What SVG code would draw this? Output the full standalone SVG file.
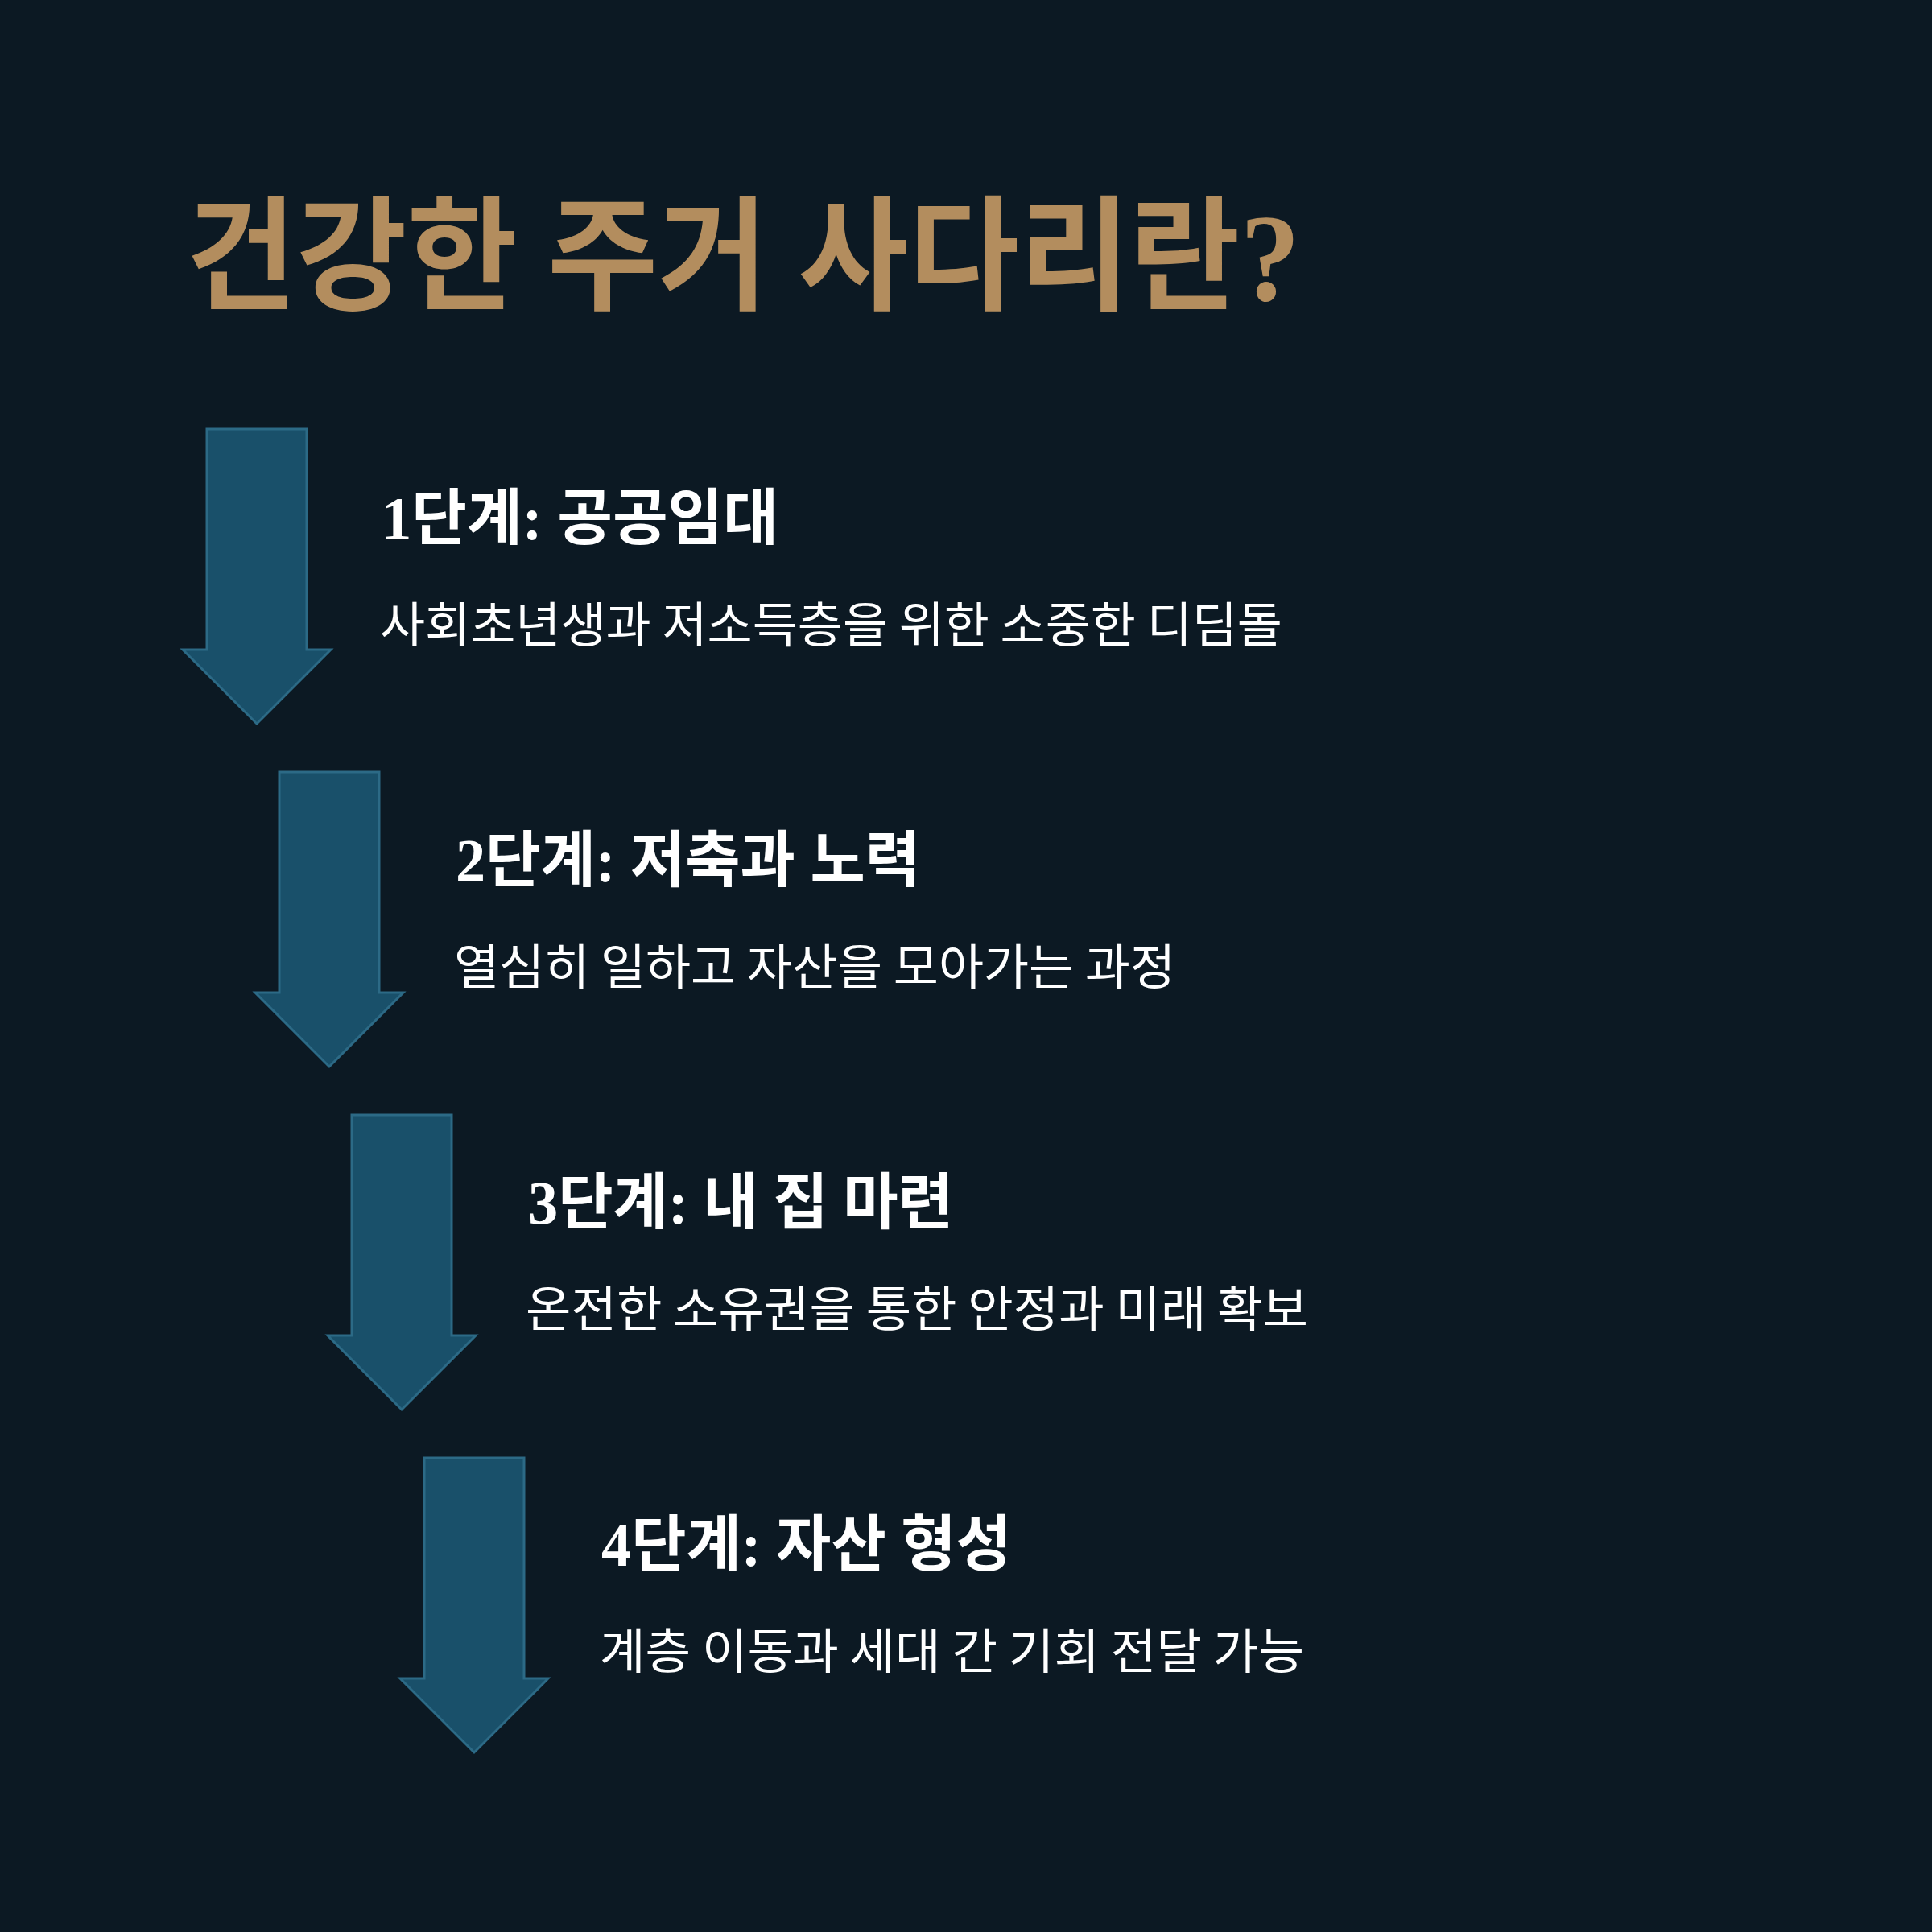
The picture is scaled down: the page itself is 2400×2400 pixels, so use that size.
<svg xmlns="http://www.w3.org/2000/svg" width="2400" height="2400" viewBox="0 0 2400 2400">
  <style>
    .bg { fill: #0c1923; }
    .arrow { fill: #19506a; stroke: #2c6a86; stroke-width: 3; stroke-linejoin: miter; }
    .title { fill: #b38d5e; font-family: "Liberation Serif", "Noto Sans CJK KR", serif; font-weight: 700; font-size: 154px; }
    .head { fill: #ffffff; font-family: "Liberation Serif", "Noto Sans CJK KR", serif; font-weight: 700; font-size: 76px; }
    .desc { fill: #ffffff; font-family: "Noto Sans CJK KR", sans-serif; font-weight: 400; font-size: 60px; }
  </style>
  <rect class="bg" x="0" y="0" width="2400" height="2400"/>
  <g id="title">
    <text class="title" x="231" y="373" textLength="1384" lengthAdjust="spacingAndGlyphs">건강한 주거 사다리란?</text>
  </g>
  <g id="connectors"></g>
  <g id="step1">
    <path class="arrow" d="M257,533 H381 V807 H411 L319,899 L227,807 H257 Z"/>
    <text class="head" x="474" y="670" textLength="493" lengthAdjust="spacingAndGlyphs">1단계: 공공임대</text>
    <text class="desc" x="472" y="798" textLength="1121" lengthAdjust="spacingAndGlyphs">사회초년생과 저소득층을 위한 소중한 디딤돌</text>
  </g>
  <g id="step2">
    <path class="arrow" d="M347,959 H471 V1233 H501 L409,1325 L317,1233 H347 Z"/>
    <text class="head" x="566" y="1095" textLength="577" lengthAdjust="spacingAndGlyphs">2단계: 저축과 노력</text>
    <text class="desc" x="564" y="1223" textLength="896" lengthAdjust="spacingAndGlyphs">열심히 일하고 자산을 모아가는 과정</text>
  </g>
  <g id="step3">
    <path class="arrow" d="M437,1385 H561 V1659 H591 L499,1751 L407,1659 H437 Z"/>
    <text class="head" x="656" y="1520" textLength="528" lengthAdjust="spacingAndGlyphs">3단계: 내 집 마련</text>
    <text class="desc" x="653" y="1648" textLength="972" lengthAdjust="spacingAndGlyphs">온전한 소유권을 통한 안정과 미래 확보</text>
  </g>
  <g id="step4">
    <path class="arrow" d="M527,1811 H651 V2085 H681 L589,2177 L497,2085 H527 Z"/>
    <text class="head" x="747" y="1945" textLength="509" lengthAdjust="spacingAndGlyphs">4단계: 자산 형성</text>
    <text class="desc" x="745" y="2073" textLength="875" lengthAdjust="spacingAndGlyphs">계층 이동과 세대 간 기회 전달 가능</text>
  </g>
</svg>
